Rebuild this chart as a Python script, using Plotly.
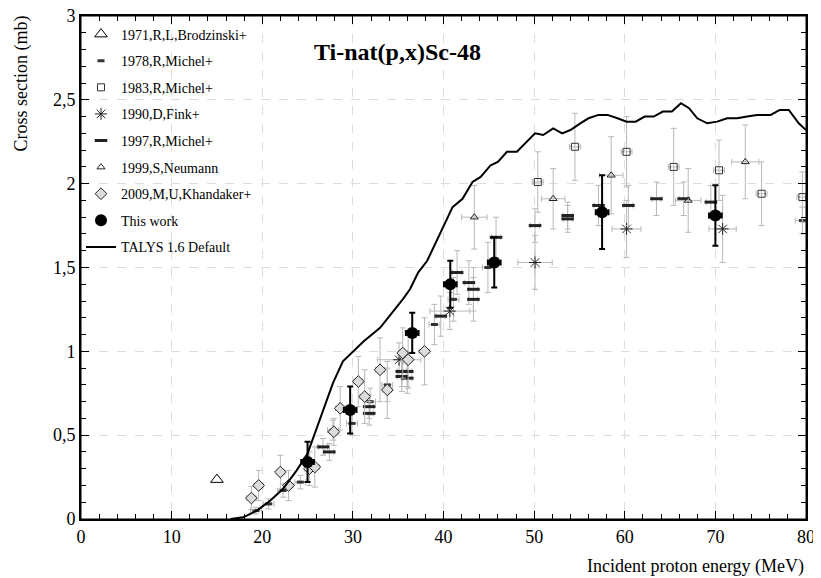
import plotly.graph_objects as go

# ---- data ----
# 1971, R.L. Brodzinski+
e_1971 = [15.0]
s_1971 = [0.235]

# 1978, R. Michel+ (small dashes)
e_1978 = [19.3, 20.7, 22.3, 24.2, 27.8, 29.9, 31.9, 33.8, 39.0, 41.1, 44.9, 79.6]
s_1978 = [0.05, 0.09, 0.17, 0.22, 0.53, 0.57, 0.70, 0.80, 1.16, 1.31, 1.50, 1.78]
ds_1978 = [0.02, 0.03, 0.04, 0.04, 0.06, 0.07, 0.08, 0.1, 0.12, 0.13, 0.15, 0.08]
de_1978 = [0.6, 0.6, 0.6, 0.6, 0.6, 0.6, 0.6, 0.6, 0.6, 0.6, 0.6, 0.8]

# 1983, R. Michel+
e_1983 = [50.4, 54.5, 60.2, 65.4, 70.4, 75.1, 79.6]
s_1983 = [2.01, 2.22, 2.19, 2.10, 2.08, 1.94, 1.92]
ds_1983 = [0.18, 0.20, 0.21, 0.23, 0.18, 0.19, 0.15]
de_1983 = [0.6, 0.6, 0.6, 0.6, 0.6, 0.6, 0.6]

# 1990, D. Fink+
e_1990 = [35.1, 40.7, 50.1, 60.2, 70.8]
s_1990 = [0.95, 1.24, 1.53, 1.73, 1.73]
ds_1990 = [0.10, 0.11, 0.16, 0.17, 0.20]
de_1990 = [2.4, 2.2, 1.9, 1.6, 1.5]

# 1997, R. Michel+ (thick dashes)
e_1997 = [26.7, 27.4, 31.8, 31.8, 35.4, 35.4, 36.0, 36.0, 39.7, 41.5, 42.8, 43.3,
          43.3, 45.8, 50.1, 53.7, 53.7, 57.1, 60.4, 63.5, 66.5, 69.5]
s_1997 = [0.43, 0.40, 0.67, 0.63, 0.88, 0.85, 0.88, 0.84, 1.21, 1.47, 1.41, 1.37,
          1.31, 1.68, 1.75, 1.81, 1.79, 1.87, 1.87, 1.91, 1.91, 1.89]
ds_1997 = [0.05, 0.05, 0.07, 0.07, 0.09, 0.09, 0.09, 0.09, 0.12, 0.13, 0.13, 0.13,
           0.13, 0.12, 0.10, 0.08, 0.08, 0.12, 0.12, 0.10, 0.10, 0.10]
de_1997 = [0.5, 0.5, 0.5, 0.5, 0.5, 0.5, 0.5, 0.5, 0.5, 0.5, 0.5, 0.5,
           0.5, 0.5, 0.5, 0.5, 0.5, 0.5, 0.5, 0.5, 0.5, 0.5]

# 1999, S. Neumann
e_1999 = [43.4, 52.1, 58.5, 67.0, 73.3]
s_1999 = [1.80, 1.91, 2.05, 1.90, 2.13]
ds_1999 = [0.19, 0.18, 0.23, 0.19, 0.22]
de_1999 = [1.4, 1.3, 1.3, 1.4, 1.5]

# 2009, M.U. Khandaker+
e_2009 = [18.8, 19.6, 22.0, 22.9, 25.2, 25.8, 27.9, 28.6, 30.6, 31.3, 33.0, 33.8,
          35.5, 36.1, 37.9]
s_2009 = [0.125, 0.20, 0.28, 0.20, 0.30, 0.31, 0.52, 0.66, 0.82, 0.73, 0.89, 0.77,
          0.99, 0.95, 1.00]
ds_2009 = [0.07, 0.09, 0.10, 0.09, 0.10, 0.12, 0.08, 0.13, 0.15, 0.16, 0.19, 0.17,
           0.15, 0.17, 0.20]
de_2009 = [0.5, 0.5, 0.4, 0.5, 0.5, 0.5, 0.5, 0.5, 0.5, 0.5, 0.5, 0.5,
           0.5, 0.5, 0.6]

# This work
e_this = [25.0, 29.7, 36.55, 40.75, 45.6, 57.5, 70.0]
s_this = [0.34, 0.65, 1.11, 1.40, 1.53, 1.83, 1.81]
ds_this = [0.12, 0.14, 0.12, 0.14, 0.15, 0.22, 0.18]
de_this = [0.7, 0.7, 0.7, 0.7, 0.7, 0.7, 0.7]

# TALYS 1.6 Default
e_talys = [16.5, 17.9, 19.4, 20.9, 22.3, 23.8, 25.0, 25.8, 26.7, 27.8, 28.9, 30.0,
           31.2, 33.0, 34.5, 35.5, 36.3, 37.2, 38.2, 39.6, 41.0, 42.1, 43.2, 44.1,
           45.2, 46.0, 47.0, 48.1, 49.0, 50.1, 51.0, 52.1, 53.1, 54.0, 55.1, 56.0,
           57.1, 58.1, 59.2, 60.2, 61.2, 62.2, 63.2, 64.2, 65.2, 66.2, 67.1, 68.0,
           69.1, 70.2, 71.3, 72.4, 73.5, 74.6, 76.1, 77.1, 78.1, 79.2, 80.0]
s_talys = [0.0, 0.01, 0.05, 0.11, 0.18, 0.29, 0.39, 0.51, 0.65, 0.81, 0.94, 1.00,
           1.06, 1.14, 1.24, 1.31, 1.37, 1.47, 1.54, 1.70, 1.86, 1.91, 2.01, 2.04,
           2.11, 2.13, 2.19, 2.19, 2.24, 2.30, 2.29, 2.33, 2.30, 2.32, 2.36, 2.39,
           2.41, 2.41, 2.39, 2.37, 2.37, 2.40, 2.40, 2.43, 2.43, 2.48, 2.45, 2.39,
           2.36, 2.37, 2.39, 2.39, 2.40, 2.41, 2.41, 2.44, 2.44, 2.36, 2.32]

_font = "Liberation Serif, Times New Roman, serif"
_gray = "#b8b8b8"


def _err(arr, color=_gray, thickness=1, width=3):
    return dict(type="data", array=arr, color=color, thickness=thickness, width=width)


fig = go.Figure()

fig.add_trace(go.Scatter(
    x=e_1971, y=s_1971, mode="markers", name="1971,R,L,Brodzinski+",
    marker=dict(symbol="triangle-up-open", size=11, color="black", line=dict(width=1)),
    legendgroup="a",
))
fig.add_trace(go.Scatter(
    x=e_1978, y=s_1978, mode="markers", name="1978,R,Michel+",
    error_x=_err(de_1978), error_y=_err(ds_1978),
    marker=dict(symbol="line-ew", size=5, color="#333", line=dict(width=3, color="#333")),
    legendgroup="b",
))
fig.add_trace(go.Scatter(
    x=e_1983, y=s_1983, mode="markers", name="1983,R,Michel+",
    error_x=_err(de_1983), error_y=_err(ds_1983),
    marker=dict(symbol="square-open", size=7, color="#333", line=dict(width=1)),
    legendgroup="c",
))
fig.add_trace(go.Scatter(
    x=e_1990, y=s_1990, mode="markers", name="1990,D,Fink+",
    error_x=_err(de_1990), error_y=_err(ds_1990),
    marker=dict(symbol="asterisk-open", size=10, color="#222", line=dict(width=1, color="#222")),
    legendgroup="d",
))
fig.add_trace(go.Scatter(
    x=e_1997, y=s_1997, mode="markers", name="1997,R,Michel+",
    error_x=_err(de_1997), error_y=_err(ds_1997),
    marker=dict(symbol="line-ew", size=9, color="#222", line=dict(width=3, color="#222")),
    legendgroup="e",
))
fig.add_trace(go.Scatter(
    x=e_1999, y=s_1999, mode="markers", name="1999,S,Neumann",
    error_x=_err(de_1999), error_y=_err(ds_1999),
    marker=dict(symbol="triangle-up-open", size=7, color="#222", line=dict(width=1)),
    legendgroup="f",
))
fig.add_trace(go.Scatter(
    x=e_2009, y=s_2009, mode="markers", name="2009,M,U,Khandaker+",
    error_x=_err(de_2009), error_y=_err(ds_2009),
    marker=dict(symbol="diamond", size=9, color="#dcdcdc", line=dict(width=1, color="#222")),
    legendgroup="g",
))
fig.add_trace(go.Scatter(
    x=e_this, y=s_this, mode="markers", name="This work",
    error_x=_err(de_this, color="black", thickness=2, width=3),
    error_y=_err(ds_this, color="black", thickness=2, width=3),
    marker=dict(symbol="circle", size=12, color="black"),
    legendgroup="h",
))
fig.add_trace(go.Scatter(
    x=e_talys, y=s_talys, mode="lines", name="TALYS 1.6 Default",
    line=dict(color="black", width=2),
    legendgroup="i",
))

_axis = dict(
    automargin=False,
    showline=True, linecolor="black", linewidth=2, mirror="allticks",
    ticks="inside", ticklen=8, tickwidth=1, tickcolor="black",
    showgrid=True, gridcolor="#dddddd", griddash="dash", gridwidth=1,
    zeroline=False, ticklabeloverflow="allow",
    tickfont=dict(family=_font, size=18, color="black"),
)

# the page puts the figure 8px in from the top-left corner, so size it to fit
fig.update_layout(
    width=813, height=570,
    margin=dict(l=73, r=15, t=8, b=59),
    paper_bgcolor="white", plot_bgcolor="white",
    separators=", ",
    font=dict(family=_font, color="black"),
    xaxis=dict(
        _axis, range=[0, 80], dtick=10,
        minor=dict(ticks="inside", dtick=2, ticklen=5, tickcolor="black", showgrid=False),
    ),
    yaxis=dict(
        _axis, range=[0, 3], dtick=0.5,
        minor=dict(ticks="inside", dtick=0.1, ticklen=5, tickcolor="black", showgrid=False),
    ),
    showlegend=True,
    legend=dict(
        x=0.0, y=0.995, xanchor="left", yanchor="top",
        bgcolor="rgba(0,0,0,0)", font=dict(family=_font, size=14, color="black"),
        tracegroupgap=5.4, itemwidth=30,
    ),
    # plot frame
    shapes=[dict(type="rect", xref="paper", yref="paper", x0=0, x1=1, y0=0, y1=1,
                 line=dict(color="black", width=1), layer="above")],
    annotations=[
        dict(text="<b>Ti-nat(p,x)Sc-48</b>", xref="paper", yref="paper", x=0.437, y=0.928,
             xanchor="center", yanchor="middle", showarrow=False,
             font=dict(family=_font, size=24, color="black")),
        dict(text="Incident proton energy (MeV)", xref="paper", yref="paper", x=1.0, y=-0.07,
             xanchor="right", yanchor="top", showarrow=False,
             font=dict(family=_font, size=18, color="black")),
        dict(text="Cross section (mb)", xref="paper", yref="paper", x=-0.1, y=1.005,
             xanchor="left", yanchor="top", textangle=-90, showarrow=False,
             font=dict(family=_font, size=18, color="black")),
    ],
)

fig.write_html("out.html")
